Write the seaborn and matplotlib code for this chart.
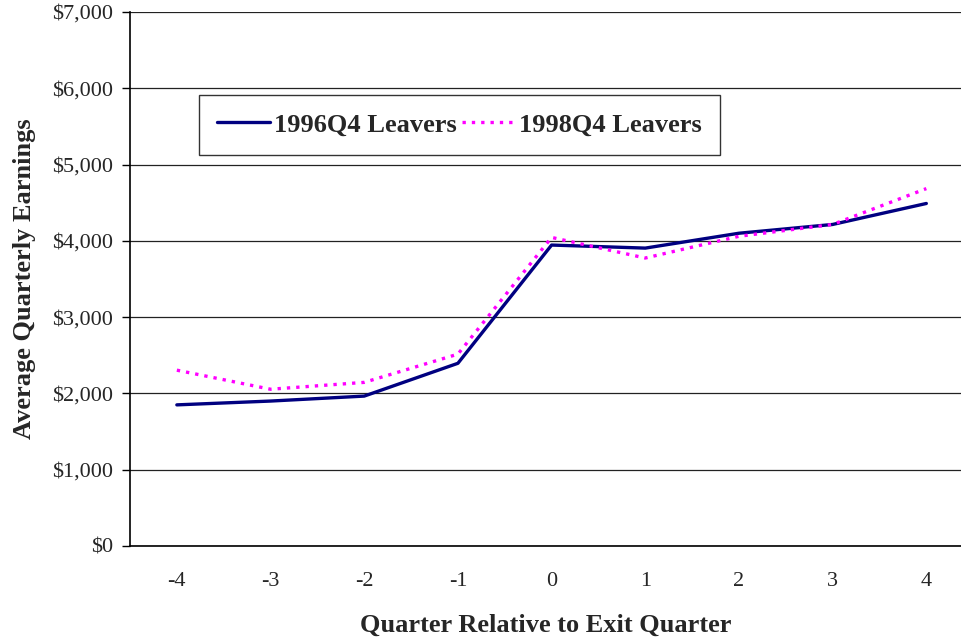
import pandas as pd
import matplotlib.pyplot as plt
import seaborn as sns
from matplotlib.ticker import FuncFormatter, MultipleLocator

# quarters relative to exit, earnings
quarters = [-4, -3, -2, -1, 0, 1, 2, 3, 4]
leavers_1996 = [1850, 1900, 1965, 2395, 3945, 3905, 4100, 4215, 4490]
leavers_1998 = [2305, 2055, 2145, 2515, 4045, 3775, 4060, 4215, 4685]

df = pd.DataFrame({
    "quarter": quarters * 2,
    "earnings": leavers_1996 + leavers_1998,
    "group": ["1996Q4 Leavers"] * 9 + ["1998Q4 Leavers"] * 9,
})

sns.set_style("white")
plt.rcParams["font.family"] = ["Liberation Serif", "DejaVu Serif"]
plt.rcParams["axes.unicode_minus"] = False

fig = plt.figure(figsize=(9.61, 6.44), dpi=100)
ax = fig.add_axes([130 / 961, 98 / 644, 831 / 961, 534 / 644])

sns.lineplot(data=df, x="quarter", y="earnings", hue="group", style="group",
             palette={"1996Q4 Leavers": "#000080", "1998Q4 Leavers": "#FF00FF"},
             dashes={"1996Q4 Leavers": "", "1998Q4 Leavers": (1, 1.8)},
             linewidth=2.4, ax=ax)

ax.set_ylim(0, 7000)
ax.set_xlim(-4.5, 4.37)
ax.yaxis.set_major_locator(MultipleLocator(1000))
ax.yaxis.set_major_formatter(FuncFormatter(lambda v, p: "${:,.0f}".format(v)))
ax.set_xticks(quarters)
ax.set_xticks([q + 0.5 for q in [-5] + quarters[:-1]], minor=True)
ax.tick_params(axis="x", which="major", length=0, pad=19, labelsize=16)
ax.tick_params(axis="x", which="minor", length=6, width=1, color="black", direction="out")
ax.tick_params(axis="y", length=6, width=1, color="black", direction="out", labelsize=16,
               left=True, pad=6)

ax.grid(axis="y", color="#222222", linewidth=0.9)
for side in ["top", "right"]:
    ax.spines[side].set_visible(False)
ax.spines["left"].set_color("black")
ax.spines["bottom"].set_color("black")
ax.spines["left"].set_linewidth(1.2)
ax.spines["bottom"].set_linewidth(1.2)

ax.set_xlabel("Quarter Relative to Exit Quarter", fontsize=19, fontweight="bold", labelpad=16)
ax.set_ylabel("Average Quarterly Earnings", fontsize=19, fontweight="bold", labelpad=12)

handles, labels = ax.get_legend_handles_labels()
leg = ax.legend(handles, labels, ncol=2, loc="lower left", bbox_to_anchor=(0.083, 0.732),
                prop={"weight": "bold", "size": 19}, frameon=True, fancybox=False,
                edgecolor="black", handlelength=2.0, columnspacing=0.2, borderpad=0.7,
                handletextpad=0.15, borderaxespad=0)
leg.get_frame().set_linewidth(1.0)

plt.savefig("out.png", dpi=100)
